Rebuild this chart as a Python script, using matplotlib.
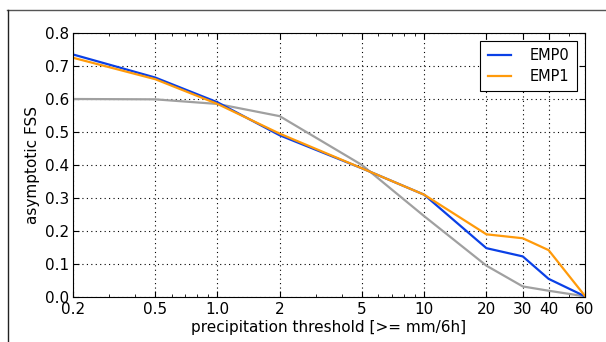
import matplotlib
matplotlib.use("Agg")
import matplotlib.pyplot as plt
from matplotlib.lines import Line2D
from matplotlib.ticker import FixedLocator, LogLocator, NullFormatter

# thresholds [mm/6h] and asymptotic FSS per experiment
thresholds = [0.2, 0.5, 1.0, 2, 5, 10, 20, 30, 40, 60]
tick_labels = ["0.2", "0.5", "1.0", "2", "5", "10", "20", "30", "40", "60"]
fss_emp0 = [0.735, 0.665, 0.590, 0.490, 0.390, 0.310, 0.148, 0.123, 0.055, 0.002]
fss_emp1 = [0.725, 0.660, 0.585, 0.495, 0.390, 0.310, 0.190, 0.178, 0.142, 0.003]
fss_ref = [0.600, 0.599, 0.585, 0.548, 0.400, 0.245, 0.095, 0.032, 0.019, 0.002]

plt.rcParams["font.family"] = "DejaVu Sans"
plt.rcParams["font.size"] = 11

fig = plt.figure(figsize=(6.06, 3.42), dpi=100)
ax = fig.add_axes([73 / 606, 1 - 297 / 342, 512 / 606, 264 / 342])

ax.plot(thresholds, fss_ref, color="#a0a0a0", lw=1.6)
ax.plot(thresholds, fss_emp0, color="#0a40e6", lw=1.6, label="EMP0")
ax.plot(thresholds, fss_emp1, color="#ff9a0a", lw=1.6, label="EMP1")

ax.set_xscale("log")
ax.set_xlim(0.2, 60)
ax.set_ylim(0.0, 0.8)
ax.xaxis.set_major_locator(FixedLocator(thresholds))
ax.set_xticklabels(tick_labels)
ax.xaxis.set_minor_locator(LogLocator(base=10, subs=range(2, 10)))
ax.xaxis.set_minor_formatter(NullFormatter())
ax.set_yticks([0.0, 0.1, 0.2, 0.3, 0.4, 0.5, 0.6, 0.7, 0.8])

ax.tick_params(which="both", direction="in", top=True, right=True)
ax.tick_params(which="major", length=4, width=0.8)
ax.tick_params(axis="x", which="major", pad=3.5)
ax.tick_params(axis="y", which="major", pad=2.5)
ax.tick_params(which="minor", length=2, width=0.6)
ax.grid(True, which="major", color="black", linestyle=(0, (1, 3)), lw=0.8)

ax.set_xlabel("precipitation threshold [>= mm/6h]", labelpad=2.5)
ax.set_ylabel("asymptotic FSS", labelpad=4)

leg = ax.legend(loc="upper right", fancybox=False, framealpha=1,
                edgecolor="black", handlelength=1.6, borderpad=0.5,
                labelspacing=0.4, handletextpad=1.3, fontsize=10.5,
                borderaxespad=0.55)
leg.get_frame().set_linewidth(0.8)

# outer frame lines
fig.add_artist(Line2D([7 / 606, 1.0], [1 - 9.5 / 342, 1 - 9.5 / 342],
                      color="#555555", lw=1.0, transform=fig.transFigure))
fig.add_artist(Line2D([7.5 / 606, 7.5 / 606], [0.0, 1 - 9.5 / 342],
                      color="#222222", lw=1.0, transform=fig.transFigure))

fig.savefig("out.png", dpi=100)
